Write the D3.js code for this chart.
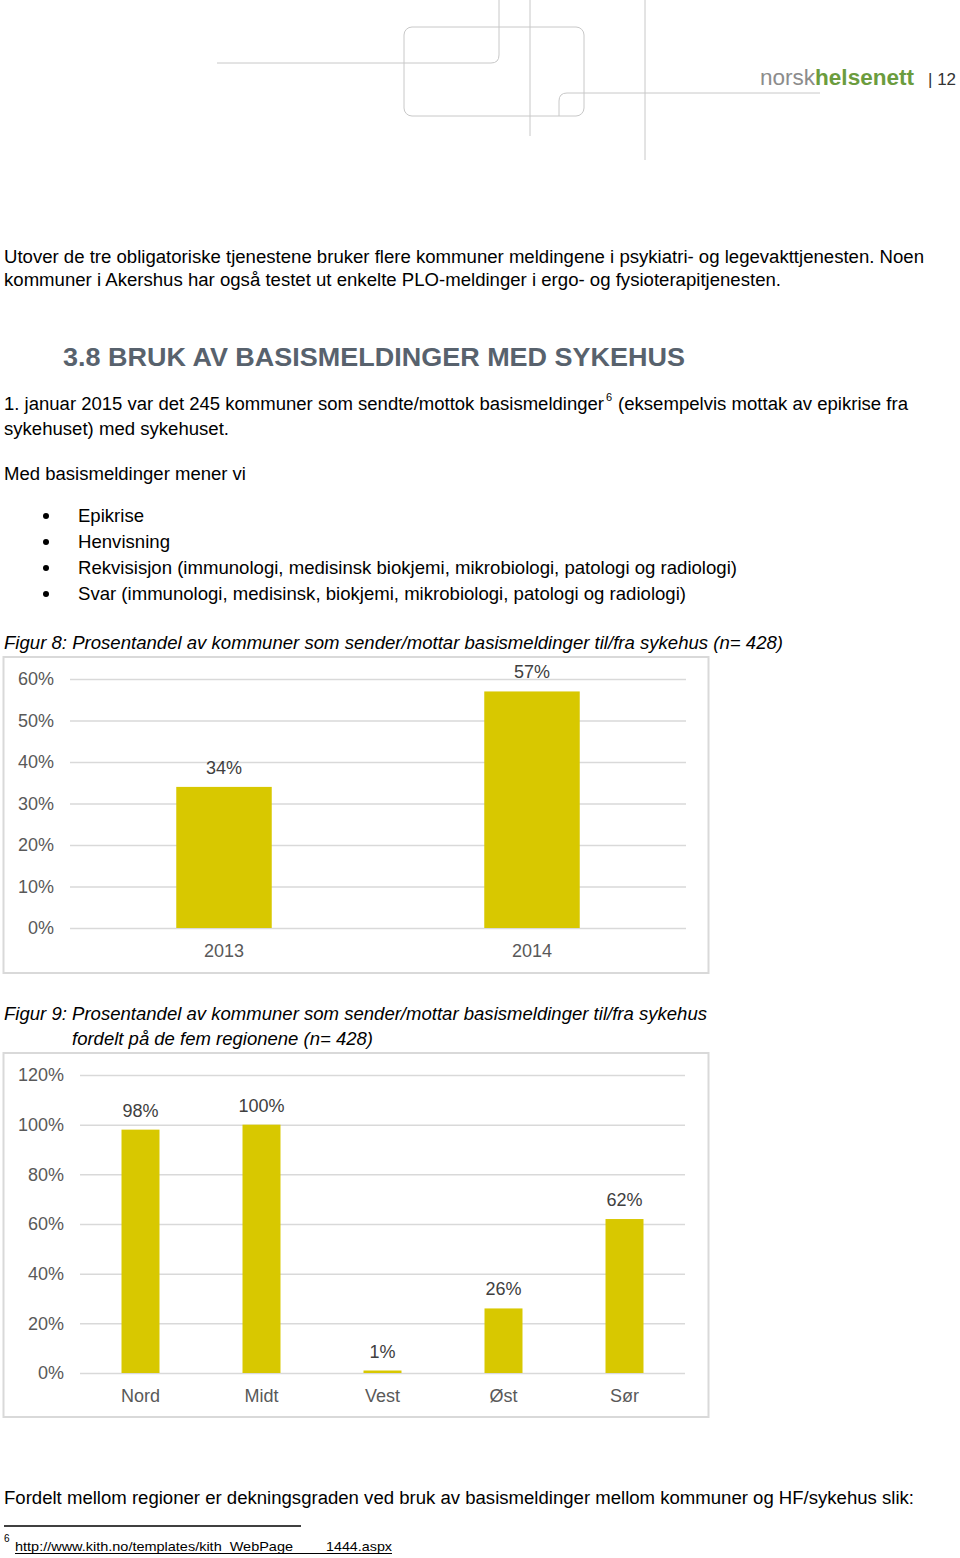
<!DOCTYPE html>
<html>
<head>
<meta charset="utf-8">
<script src="https://cdn.jsdelivr.net/npm/d3@7"></script>
<style>
  html, body { margin: 0; padding: 0; background: #fff; }
  svg { display: block; font-family: "Liberation Sans", Arial, sans-serif; }
  .body-text { font-size: 18px; fill: #000; }
  .caption { font-size: 18px; font-style: italic; fill: #000; }
  .tick-label { font-size: 18px; fill: #595959; }
  .value-label { font-size: 18px; fill: #404040; }
</style>
</head>
<body>
<svg id="page" width="960" height="1558"></svg>
<script>
// ---------- Data ----------
const yearCategories = ["2013", "2014"];
const yearValues = [0.34, 0.57];
const yearTicks = [0, 0.1, 0.2, 0.3, 0.4, 0.5, 0.6];

const regionCategories = ["Nord", "Midt", "Vest", "Øst", "Sør"];
const regionValues = [0.98, 1.00, 0.01, 0.26, 0.62];
const regionTicks = [0, 0.2, 0.4, 0.6, 0.8, 1.0, 1.2];

const bulletItems = [
  "Epikrise",
  "Henvisning",
  "Rekvisisjon (immunologi, medisinsk biokjemi, mikrobiologi, patologi og radiologi)",
  "Svar (immunologi, medisinsk, biokjemi, mikrobiologi, patologi og radiologi)"
];
const bulletWidths = [66, 92, 659, 608];

const BAR = "#d8c800";
const GRID = "#d9d9d9";
const pct = d3.format(".0%");

const svg = d3.select("#page");

// ---------- Page header decoration ----------
const deco = svg.append("g").attr("fill", "none").attr("stroke", "#c8c8c8").attr("stroke-width", 1);
deco.append("path").attr("d", "M217,63 H491 Q499,63 499,55 V0");
deco.append("rect").attr("x", 404).attr("y", 27).attr("width", 180).attr("height", 89).attr("rx", 8);
deco.append("path").attr("d", "M559,116 V101 Q559,93 567,93 H820");
deco.append("line").attr("x1", 530).attr("x2", 530).attr("y1", 0).attr("y2", 136);
deco.append("line").attr("x1", 645).attr("x2", 645).attr("y1", 0).attr("y2", 160);

const logo = svg.append("text").attr("x", 760).attr("y", 85).style("font-size", "22px")
  .attr("textLength", 154).attr("lengthAdjust", "spacingAndGlyphs");
logo.append("tspan").attr("fill", "#8c8c8c").text("norsk");
logo.append("tspan").attr("fill", "#6b9c3e").attr("font-weight", "bold").text("helsenett");
svg.append("text").attr("x", 928).attr("y", 85).style("font-size", "17px").attr("fill", "#333")
  .text("| 12");

// ---------- Body text ----------
function line(txt, x, y, len, cls = "body-text") {
  const t = svg.append("text").attr("class", cls).attr("x", x).attr("y", y).text(txt);
  if (len) t.attr("textLength", len).attr("lengthAdjust", "spacingAndGlyphs");
  return t;
}

line("Utover de tre obligatoriske tjenestene bruker flere kommuner meldingene i psykiatri- og legevakttjenesten. Noen", 4, 263, 920);
line("kommuner i Akershus har også testet ut enkelte PLO-meldinger i ergo- og fysioterapitjenesten.", 4, 286, 777);

svg.append("text").attr("x", 63).attr("y", 366)
  .attr("textLength", 622).attr("lengthAdjust", "spacingAndGlyphs")
  .style("font-size", "26px").style("font-weight", "bold").attr("fill", "#58626d")
  .text("3.8 BRUK AV BASISMELDINGER MED SYKEHUS");

line("1. januar 2015 var det 245 kommuner som sendte/mottok basismeldinger", 4, 410, 600);
svg.append("text").attr("x", 606).attr("y", 401).style("font-size", "11px").text("6");
line("(eksempelvis mottak av epikrise fra", 618, 410, 290);
line("sykehuset) med sykehuset.", 4, 435, 225);
line("Med basismeldinger mener vi", 4, 480, 242);

const bullets = svg.append("g");
bulletItems.forEach((b, i) => {
  const y = 522 + i * 26;
  bullets.append("circle").attr("cx", 46).attr("cy", y - 6).attr("r", 3).attr("fill", "#000");
  bullets.append("text").attr("class", "body-text").attr("x", 78).attr("y", y)
    .style("font-size", "18.5px")
    .attr("textLength", bulletWidths[i]).attr("lengthAdjust", "spacingAndGlyphs")
    .text(b);
});

line("Figur 8: Prosentandel av kommuner som sender/mottar basismeldinger til/fra sykehus (n= 428)", 4, 649, 779, "caption");
line("Figur 9: Prosentandel av kommuner som sender/mottar basismeldinger til/fra sykehus", 4, 1020, 703, "caption");
line("fordelt på de fem regionene (n= 428)", 72, 1045, 301, "caption");

line("Fordelt mellom regioner er dekningsgraden ved bruk av basismeldinger mellom kommuner og HF/sykehus slik:", 4, 1504, 910);

// footnote
svg.append("line").attr("x1", 4).attr("x2", 301).attr("y1", 1526).attr("y2", 1526)
  .attr("stroke", "#000").attr("stroke-width", 1.5);
svg.append("text").attr("x", 4).attr("y", 1542).style("font-size", "10px").text("6");
svg.append("text").attr("x", 15).attr("y", 1551).style("font-size", "13px")
  .attr("textLength", 278).attr("lengthAdjust", "spacingAndGlyphs")
  .text("http://www.kith.no/templates/kith_WebPage");
svg.append("text").attr("x", 326).attr("y", 1551).style("font-size", "13px")
  .attr("textLength", 66).attr("lengthAdjust", "spacingAndGlyphs")
  .text("1444.aspx");
svg.append("line").attr("x1", 15).attr("x2", 392).attr("y1", 1553.5).attr("y2", 1553.5)
  .attr("stroke", "#000").attr("stroke-width", 1);

// ---------- Bar chart helper ----------
function barChart(cfg) {
  const g = svg.append("g");
  g.append("rect")
    .attr("x", cfg.box[0]).attr("y", cfg.box[1])
    .attr("width", cfg.box[2]).attr("height", cfg.box[3])
    .attr("fill", "#fff").attr("stroke", GRID).attr("stroke-width", 2);

  const y = d3.scaleLinear().domain(cfg.domain).range(cfg.yRange);
  const x = d3.scaleBand().domain(cfg.cats).range(cfg.xRange)
    .paddingInner(cfg.pad).paddingOuter(cfg.pad / 2);

  const axis = d3.axisLeft(y).tickValues(cfg.ticks).tickFormat(pct)
    .tickSize(-(cfg.xRange[1] - cfg.xRange[0])).tickPadding(16);
  const ax = g.append("g").attr("transform", `translate(${cfg.xRange[0]},0)`).call(axis);
  ax.select(".domain").remove();
  ax.selectAll(".tick line").attr("stroke", GRID).attr("stroke-width", 1.5);
  ax.selectAll(".tick text").attr("class", "tick-label").attr("x", cfg.labelX - cfg.xRange[0])
    .style("font-family", "inherit");
  ax.attr("font-size", null).attr("font-family", null);

  const data = cfg.cats.map((c, i) => ({ cat: c, v: cfg.values[i] }));
  g.selectAll(".bar").data(data).join("rect")
    .attr("class", "bar")
    .attr("x", d => x(d.cat)).attr("width", x.bandwidth())
    .attr("y", d => y(d.v)).attr("height", d => y(0) - y(d.v))
    .attr("fill", BAR);

  g.selectAll(".val").data(data).join("text")
    .attr("class", "value-label").attr("text-anchor", "middle")
    .attr("x", d => x(d.cat) + x.bandwidth() / 2)
    .attr("y", d => y(d.v) - 13)
    .text(d => pct(d.v));

  g.selectAll(".cat").data(data).join("text")
    .attr("class", "tick-label").attr("text-anchor", "middle")
    .attr("x", d => x(d.cat) + x.bandwidth() / 2)
    .attr("y", y(0) + 29)
    .text(d => d.cat);
}

barChart({
  box: [3.5, 657, 705, 316],
  domain: [0, 0.6], yRange: [928, 679],
  xRange: [70, 686], labelX: 54,
  cats: yearCategories, values: yearValues, ticks: yearTicks, pad: 0.69
});

barChart({
  box: [3.5, 1053, 705, 364],
  domain: [0, 1.2], yRange: [1373, 1075],
  xRange: [80, 685], labelX: 64,
  cats: regionCategories, values: regionValues, ticks: regionTicks, pad: 0.686
});
</script>
</body>
</html>
